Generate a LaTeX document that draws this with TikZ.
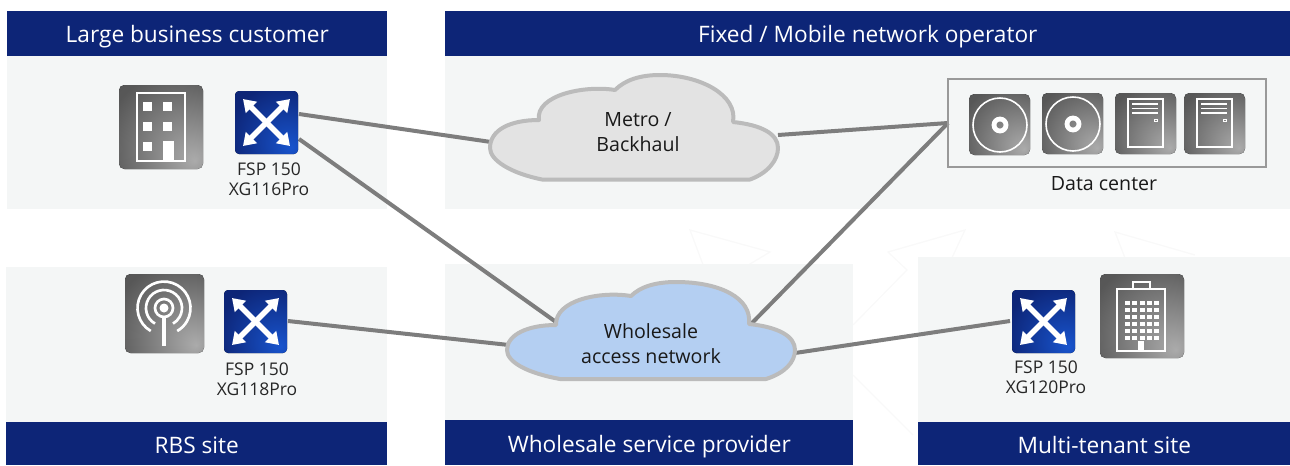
\documentclass[tikz,border=0pt]{standalone}
\usepackage{fontspec}
\setmainfont{Open Sans}
\usetikzlibrary{positioning,arrows.meta}

\definecolor{headblue}{RGB}{13,37,119}
\definecolor{panelgrey}{RGB}{244,246,246}
\definecolor{linkgrey}{RGB}{125,125,125}
\definecolor{cloudrim}{RGB}{187,187,187}
\definecolor{cloudgrey}{RGB}{227,227,227}
\definecolor{cloudblue}{RGB}{180,207,242}
\definecolor{fspbright}{RGB}{24,84,205}
\definecolor{markgrey}{RGB}{249,249,249}

\pgfdeclareradialshading{icongrad}{\pgfpoint{20bp}{-20bp}}{color(0bp)=(black!33); color(45bp)=(black!66); color(100bp)=(black!68)}
\pgfdeclareradialshading{fspgrad}{\pgfpoint{20bp}{-20bp}}{color(0bp)=(fspbright); color(42bp)=(headblue); color(100bp)=(headblue)}

\tikzset{
  header/.style={fill=headblue, text=white, font=\fontsize{17}{20}\selectfont, inner sep=0pt, anchor=north west, text height=15pt, text depth=1.5pt},
  footer/.style={header, text height=15.5pt, text depth=1pt},
  link/.style={draw=linkgrey, line width=3pt},
  cloudrimline/.style={draw=cloudrim, line width=3pt, line join=round},
  caption/.style={font=\fontsize{13.1}{15}\selectfont, align=center, text=black!85},
  cloudtext/.style={font=\fontsize{14.7}{18.75}\selectfont, align=center, text=black!90},
  icongrey/.style={shading=icongrad, rounded corners=4pt},
  fspblue/.style={shading=fspgrad, rounded corners=3pt},
  iconline/.style={draw=white, line width=1.2pt},
  fsparrow/.style={draw=white, line width=4.2pt, {Triangle[width=11.5pt,length=9pt]}-{Triangle[width=11.5pt,length=9pt]}}
}

% switch icon, 63 px wide, (#1,#2) = top left corner
\newcommand{\fspicon}[2]{
  \begin{scope}[shift={(#1,#2)}]
    \fill[fspblue] (0,0) rectangle (63,63);
    \draw[fsparrow] (8,8) -- (55,55);
    \draw[fsparrow] (55,8) -- (8,55);
  \end{scope}
}
% disk icon
\newcommand{\diskicon}[2]{
  \begin{scope}[shift={(#1,#2)}]
    \fill[icongrey] (0,0) rectangle (61,61);
    \draw[iconline] (31,31) circle (27);
    \draw[draw=white, line width=3.6pt] (31,31) circle (6);
  \end{scope}
}
% server icon
\newcommand{\servericon}[2]{
  \begin{scope}[shift={(#1,#2)}]
    \fill[icongrey] (0,0) rectangle (61,61);
    \draw[iconline] (13,6) rectangle (48,54);
    \foreach \y in {11,15.5,20} \draw[draw=white, line width=1.1pt] (17,\y) -- (43,\y);
    \draw[draw=white, line width=.7pt] (39,26) rectangle (42,28);
  \end{scope}
}

\begin{document}
\begin{tikzpicture}[x=0.75pt,y=-0.75pt]
  \useasboundingbox (0,0) rectangle (1290,465);

  % faint background mark
  \draw[markgrey, line width=1pt] (705,270) -- (690,230) -- (770,252) -- (740,270);
  \draw[markgrey, line width=1pt] (853,325) -- (907,270) -- (888,252) -- (965,230) -- (950,262);
  \draw[markgrey, line width=1pt] (853,375) -- (913,435);
  \draw[markgrey, line width=1pt] (1125,258) -- (1115,232) -- (1195,255);

  % panels
  \fill[panelgrey] (7,56) rectangle (387,209);
  \fill[panelgrey] (445,56) rectangle (1290,209);
  \fill[panelgrey] (6,267) rectangle (387,422);
  \fill[panelgrey] (445,264) rectangle (853,420);
  \fill[panelgrey] (918,257) rectangle (1290,422);

  % headers
  \node[header, minimum width=285pt, minimum height=34pt] (large) at (7,10.5) {Large business customer};
  \node[header, minimum width=633.75pt, minimum height=34pt] (fixed) at (445,10.5) {Fixed / Mobile network operator};
  \node[footer, minimum width=285.75pt, minimum height=32.25pt] (rbs) at (6,422) {RBS site};
  \node[footer, minimum width=306pt, minimum height=33.75pt] (wholesale) at (445,420) {Wholesale service provider};
  \node[footer, minimum width=279pt, minimum height=32.25pt] (tenant) at (918,422) {Multi-tenant site};

  % named link ends
  \coordinate (fspa1) at (299,114);
  \coordinate (fspa2) at (299,139);
  \coordinate (fspb) at (288,321);
  \coordinate (fspc) at (1010,321);
  \coordinate (metroL) at (491,142);
  \coordinate (metroR) at (778,135);
  \coordinate (dcL) at (948,123);
  \coordinate (whL) at (509,345);
  \coordinate (whTL) at (556,322);
  \coordinate (whTR) at (752,323);
  \coordinate (whR) at (795,353);

  \draw[link] (fspa1) -- (metroL);
  \draw[link] (fspa2) -- (whTL);
  \draw[link] (fspb) -- (whL);
  \draw[link] (metroR) -- (dcL);
  \draw[link] (whTR) -- (dcL);
  \draw[link] (whR) -- (fspc);

  % clouds
  \filldraw[cloudrimline, fill=cloudgrey] (542,179.5) -- (750,179.5)
    .. controls (768,173) and (778,160) .. (778,148)
    .. controls (778,134) and (762,125) .. (733,122)
    .. controls (738,95) and (700,75) .. (660,75)
    .. controls (640,75) and (625,80) .. (615,90)
    .. controls (585,85) and (535,95) .. (539,120)
    .. controls (510,120) and (490,130) .. (490,148)
    .. controls (490,160) and (510,173) .. (542,179.5) -- cycle;
  \filldraw[cloudrimline, fill=cloudblue] (560,379) -- (766,379)
    .. controls (785,373) and (795,362) .. (795,350)
    .. controls (795,336) and (778,327) .. (749,324)
    .. controls (752,298) and (720,282) .. (676,282)
    .. controls (655,282) and (640,287) .. (631,296)
    .. controls (600,291) and (555,300) .. (556,325)
    .. controls (527,325) and (507,335) .. (507,350)
    .. controls (507,362) and (527,373) .. (560,379) -- cycle;
  \node[cloudtext] (metro) at (638,132) {Metro /\\Backhaul};
  \node[cloudtext] (access) at (651,344) {Wholesale\\access network};

  % data center
  \draw[draw=black!40, line width=1.5pt] (948,79) rectangle (1266,167);
  \node[font=\fontsize{14.7}{18}\selectfont, text=black!90] (dc) at (1104,184) {Data center};
  \diskicon{969}{94}
  \diskicon{1042}{93}
  \servericon{1115}{93}
  \servericon{1184}{93}

  % building, large business
  \begin{scope}[shift={(119,85)}]
    \fill[icongrey] (0,0) rectangle (84,84);
    \draw[draw=white, line width=1.8pt] (18,8) rectangle (66,76);
    \foreach \x in {28,48} \foreach \y in {21,41} \fill[white] (\x-4.5,\y-4.5) rectangle ++(9,9);
    \fill[white] (23.5,56.5) rectangle ++(9,9);
    \fill[white] (44,56) rectangle (55,76);
  \end{scope}

  % antenna, RBS
  \begin{scope}[shift={(125,274)}]
    \fill[icongrey] (0,0) rectangle (79,79);
    \fill[white] (39,34) circle (4.5);
    \draw[draw=white, line width=2pt] (39,34) circle (9);
    \draw[draw=white, line width=2pt] (30,49.6) arc (120:420:18);
    \draw[draw=white, line width=2pt] (25.75,57) arc (120:420:26.5);
    \draw[draw=white, line width=2.6pt] (39,42) -- (39,72);
  \end{scope}

  % tower, multi-tenant
  \begin{scope}[shift={(1100,274)}]
    \fill[icongrey] (0,0) rectangle (84,84);
    \draw[draw=white, line width=1.4pt] (17,15) rectangle (65,77);
    \draw[draw=white, line width=1.2pt] (33,15) -- (33,8) -- (50,8) -- (50,15);
    \foreach \x in {27,34.5,42,49,56} \foreach \y in {29,36,43,50,57,64}
      \fill[white] (\x-2.5,\y-2) rectangle ++(5,4);
    \fill[white] (38,67) rectangle (44,77);
  \end{scope}

  % switches
  \fspicon{235}{91}
  \fspicon{224}{290}
  \fspicon{1012}{290}
  \node[caption] (fspalabel) at (269,179.5) {FSP 150\\XG116Pro};
  \node[caption] (fspblabel) at (257,379) {FSP 150\\XG118Pro};
  \node[caption] (fspclabel) at (1046,377) {FSP 150\\XG120Pro};
\end{tikzpicture}
\end{document}
